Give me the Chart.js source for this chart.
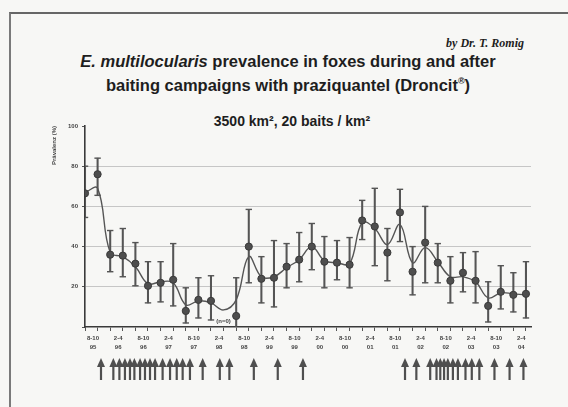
<!DOCTYPE html>
<html><head><meta charset="utf-8">
<script src="https://cdn.jsdelivr.net/npm/chart.js@4"></script>
<style>
html,body{margin:0;padding:0;background:#f7f7f5;}
#wrap{position:relative;width:568px;height:407px;overflow:hidden;background:#f7f7f5;}
#frame{position:absolute;left:9px;top:12px;width:620px;height:440px;border-left:2px solid #7a7a7a;border-top:2px solid #666;}
.t{position:absolute;white-space:nowrap;color:#1e1e1e;}
#author{right:44px;top:36px;font:italic bold 12px "Liberation Serif";}
#title{left:0;width:576px;text-align:center;top:51px;font:bold 16.5px "Liberation Sans";line-height:20px;}
#sub{left:0;width:584px;text-align:center;top:113px;font:bold 14px "Liberation Sans";}
#c{position:absolute;left:0;top:0;}
</style></head>
<body><div id="wrap">
<div id="frame"></div>
<div class="t" id="author">by Dr. T. Romig</div>
<div class="t" id="title"><i>E. multilocularis</i> prevalence in foxes during and after<br>baiting campaigns with praziquantel (Droncit<sup style="font-size:9px">®</sup>)</div>
<div class="t" id="sub">3500 km², 20 baits / km²</div>
<canvas id="c" width="568" height="407"></canvas>
</div>
<script>
// sampling periods (quarter index along the time axis)
const periods = [0,1,2,3,4,5,6,7,8,9,10,11,12,13,14,15,16,17,18,19,20,21,22,23,24,25,26,27,28,29,30,31,32,33,34,35];
// prevalence (%) per period (null = no sample)
const prevalence = [66.5,76,36,35.5,31.5,20.5,22,23.5,8,13.5,13,null,5.5,40,24,24.5,30,33.5,40,32.5,32,31,53,50,37,57,27.5,42,32,23,27,23,10.5,17.5,16,16.5];
const upper = [80,84,48,49,42,32.5,32.5,41.5,19.5,24.5,25.5,null,24.5,58.5,35,43,41.5,47,51.5,45,43,44.5,63,69,49,68.5,40,60,41.5,35,37,37.5,22.5,30.5,27,32.5];
const lower = [54.5,65.5,27.5,25,20.5,12,12.5,10.5,2,4.5,3.5,null,0,22,12,10,19.5,22.5,28.5,19.5,23.5,19.5,43.5,30.5,23,42.5,16,22,22,12,17.5,12,2.5,9,7.5,4.5];
// smoothed trend
const trend = [67,69,37,35,30,21.5,22.5,22,11,13,12,8.5,13.5,35,25,25,29.5,33.5,40,33,32,31.5,52,49,41,51,32,39.5,32.5,25,25,22.5,14.5,17,16.5,16];
// tick labels (season / year), one per two periods
const seasonLabels = [['8-10','95'],['2-4','96'],['8-10','96'],['2-4','97'],['8-10','97'],['2-4','98'],['8-10','98'],['2-4','99'],['8-10','99'],['2-4','00'],['8-10','00'],['2-4','01'],['8-10','01'],['2-4','02'],['8-10','02'],['2-4','03'],['8-10','03'],['2-4','04']];
// baiting campaigns (position on the period axis)
const campaigns = [1.27,2.25,2.73,3.17,3.57,3.92,4.37,4.76,5.16,5.56,6.16,6.75,7.28,7.75,8.33,9.34,10.7,11.46,13.4,15.3,17.3,25.4,26.3,27.4,27.9,28.2,28.5,28.8,29.2,29.6,30.2,30.7,31.3,32.5,33.7,34.8];
const yTicks = [0,20,40,60,80,100];
const noteText = '(n=0)';
const notePos = [11, 3];

const dark = '#4e4e4e';
const pts = periods.map((p,i)=>({x:p,y:prevalence[i]})).filter(d=>d.y!==null);
const bars = periods.map((p,i)=>({x:p,y:[lower[i],upper[i]]})).filter(d=>d.y[0]!==null);
const capsHi = periods.map((p,i)=>({x:p,y:upper[i]})).filter(d=>d.y!==null);
const capsLo = periods.map((p,i)=>({x:p,y:lower[i]})).filter(d=>d.y!==null && d.y>0);
const trendPts = periods.map((p,i)=>({x:p,y:trend[i]}));

const extras = {
  id:'extras',
  afterDraw(chart){
    const ctx = chart.ctx, xs = chart.scales.x, ys = chart.scales.y;
    ctx.save();
    ctx.fillStyle = '#4f4f4f'; ctx.strokeStyle = '#4f4f4f';
    const base = xs.bottom;
    campaigns.forEach(c=>{
      const px = xs.getPixelForValue(c);
      ctx.lineWidth = 2.2;
      ctx.beginPath(); ctx.moveTo(px, base+23); ctx.lineTo(px, base+8); ctx.stroke();
      ctx.beginPath(); ctx.moveTo(px, base+1); ctx.lineTo(px-4, base+10); ctx.lineTo(px+4, base+10); ctx.closePath(); ctx.fill();
    });
    ctx.fillStyle = '#444'; ctx.font = 'bold 6px "Liberation Sans"'; ctx.textAlign='center'; ctx.textBaseline='middle';
    ctx.fillText(noteText, xs.getPixelForValue(notePos[0]), ys.getPixelForValue(notePos[1]));
    ctx.restore();
  }
};

new Chart(document.getElementById('c'), {
  type:'bar',
  data:{datasets:[
    {type:'line', data:trendPts, borderColor:'#555', borderWidth:1.4, pointRadius:0, tension:0.4, order:4},
    {type:'bar', data:bars, backgroundColor:'#555', barThickness:1.4, order:3},
    {type:'scatter', data:capsHi, pointStyle:'line', pointRadius:3.2, borderColor:'#555', borderWidth:1.4, order:2},
    {type:'scatter', data:capsLo, pointStyle:'line', pointRadius:3.2, borderColor:'#555', borderWidth:1.4, order:2},
    {type:'scatter', data:pts, pointStyle:'circle', pointRadius:3.6, backgroundColor:dark, borderColor:'#3a3a3a', borderWidth:1, order:1}
  ]},
  options:{
    responsive:false, animation:false,
    layout:{padding:{left:51, top:126, right:37, bottom:50}},
    plugins:{legend:{display:false}, tooltip:{enabled:false}},
    scales:{
      x:{type:'linear', min:0, max:35.4, offset:false,
        afterBuildTicks(s){ s.ticks = periods.map(v=>({value:v})); },
        afterFit(s){ s.height = 30; },
        ticks:{autoSkip:false, maxRotation:0, labelOffset:8, padding:3, color:'#444',
          font:{size:6, weight:'bold', family:'Liberation Sans', lineHeight:1.5},
          callback:(v)=> (v%2===0 && seasonLabels[v/2]) ? seasonLabels[v/2] : ''},
        grid:{drawOnChartArea:false, offset:false, tickLength:4, tickColor:'#555', tickWidth:1},
        border:{color:'#3a3a3a', width:1.6}
      },
      y:{min:0, max:100,
        afterBuildTicks(s){ s.ticks = yTicks.map(v=>({value:v})); },
        afterFit(s){ s.width = 34; },
        ticks:{padding:4, color:'#444', font:{size:6, weight:'bold', family:'Liberation Sans'}, callback:v=> v===0?'':v},
        grid:{color:c=> (c.tick && c.tick.value>0 && c.tick.value<100) ? '#c6c6c6' : 'rgba(0,0,0,0)', lineWidth:1, tickLength:3, tickColor:'#555'},
        border:{color:'#3a3a3a', width:1.6},
        title:{display:true, text:'Prävalenz (%)', align:'end', color:'#444', font:{size:6, weight:'bold', family:'Liberation Sans'}, padding:0}
      }
    }
  },
  plugins:[extras]
});
</script>
</body></html>
